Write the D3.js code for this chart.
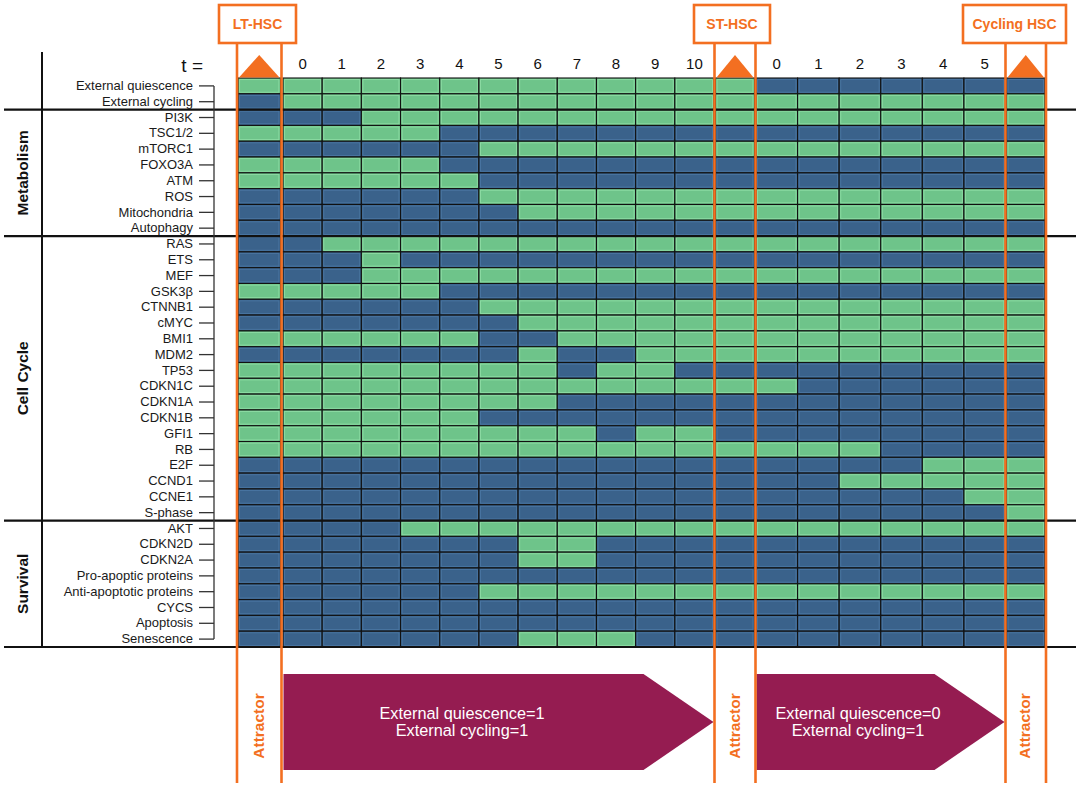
<!DOCTYPE html>
<html>
<head>
<meta charset="utf-8">
<script src="https://cdnjs.cloudflare.com/ajax/libs/d3/7.8.5/d3.min.js"></script>
<style>
  body { margin: 0; background: #fff; }
  svg { display: block; }
</style>
</head>
<body>
<div id="chart"></div>
<script>
const genes = ["External quiescence", "External cycling", "PI3K", "TSC1/2", "mTORC1", "FOXO3A", "ATM", "ROS",
  "Mitochondria", "Autophagy", "RAS", "ETS", "MEF", "GSK3β", "CTNNB1", "cMYC", "BMI1", "MDM2", "TP53", "CDKN1C",
  "CDKN1A", "CDKN1B", "GFI1", "RB", "E2F", "CCND1", "CCNE1", "S-phase", "AKT", "CDKN2D", "CDKN2A",
  "Pro-apoptic proteins", "Anti-apoptotic proteins", "CYCS", "Apoptosis", "Senescence"];

const groupNames = ["Metabolism", "Cell Cycle", "Survival"];
const groupFirst = ["PI3K", "RAS", "AKT"];

const attractors = ["LT-HSC", "ST-HSC", "Cycling HSC"];
const run1Steps = [0, 1, 2, 3, 4, 5, 6, 7, 8, 9, 10];
const run2Steps = [0, 1, 2, 3, 4, 5];
const runLabels = [
  ["External quiescence=1", "External cycling=1"],
  ["External quiescence=0", "External cycling=1"]
];

// per gene: LT attractor | run 1, t=0..10 | ST attractor | run 2, t=0..5 | cycling attractor  (1 = active)
const states = [
  "1 11111111111 1 000000 0",
  "0 11111111111 1 111111 1",
  "0 00111111111 1 111111 1",
  "1 11110000000 0 000000 0",
  "0 00000111111 1 111111 1",
  "1 11110000000 0 000000 0",
  "1 11111000000 0 000000 0",
  "0 00000111111 1 111111 1",
  "0 00000011111 1 111111 1",
  "0 00000000000 0 000000 0",
  "0 01111111111 1 111111 1",
  "0 00100000000 0 000000 0",
  "0 00111111111 1 111111 1",
  "1 11110000000 0 000000 0",
  "0 00000111111 1 111111 1",
  "0 00000011111 1 111111 1",
  "1 11111001111 1 111111 1",
  "0 00000010011 1 111111 1",
  "1 11111110110 0 000000 0",
  "1 11111111111 1 100000 0",
  "1 11111110000 0 000000 0",
  "1 11111000000 0 000000 0",
  "1 11111111011 0 000000 0",
  "1 11111111111 1 111000 0",
  "0 00000000000 0 000011 1",
  "0 00000000000 0 001111 1",
  "0 00000000000 0 000001 1",
  "0 00000000000 0 000000 1",
  "0 00011111111 1 111111 1",
  "0 00000011000 0 000000 0",
  "0 00000011000 0 000000 0",
  "0 00000000000 0 000000 0",
  "0 00000111111 1 111111 1",
  "0 00000000000 0 000000 0",
  "0 00000000000 0 000000 0",
  "0 00000011100 0 000000 0"
];

const W = 1084, H = 788;
const font = "'Liberation Sans', Arial, Helvetica, sans-serif";
const ORANGE = "#f36f21", GREEN = "#6ec48a", BLUE = "#3a628b", PURPLE = "#951c51";

const svg = d3.select("#chart").append("svg")
    .attr("width", W)
    .attr("height", H)
    .style("font-family", font);

const y = d3.scaleBand().domain(genes).range([78, 647]);
const xRun = [
  d3.scaleBand().domain(run1Steps).range([283, 714]),
  d3.scaleBand().domain(run2Steps).range([756, 1005.5])
];
// orange rails around the attractor columns
const rails = [[237, 281.5], [714.5, 755.5], [1005.5, 1046]];
const boxes = [{x: 219, w: 77}, {x: 694, w: 76}, {x: 963, w: 103}];
const arrowTextX = [462, 858];

// build cells
const cells = [];
genes.forEach((g, r) => {
  const [a0, s1, a1, s2, a2] = states[r].split(" ");
  [a0, a1, a2].forEach((v, i) => cells.push({g, x: rails[i][0] + 1, w: rails[i][1] - rails[i][0] - 2, on: v === "1"}));
  [s1, s2].forEach((s, k) => s.split("").forEach((v, t) =>
    cells.push({g, x: xRun[k](t), w: xRun[k].bandwidth(), on: v === "1"})));
});

const cell = svg.append("g")
  .selectAll("g")
  .data(cells)
  .join("g");

cell.append("rect")
    .attr("x", d => d.x)
    .attr("y", d => y(d.g))
    .attr("width", d => d.w)
    .attr("height", y.bandwidth())
    .attr("fill", d => d.on ? GREEN : BLUE)
    .attr("stroke", "#111")
    .attr("stroke-width", 1.1);

cell.append("rect")
    .attr("x", d => d.x + 1.6)
    .attr("y", d => y(d.g) + 1.6)
    .attr("width", d => d.w - 3.2)
    .attr("height", y.bandwidth() - 3.2)
    .attr("fill", "none")
    .attr("stroke", d => d.on ? "#8ddca4" : "#4a76a2")
    .attr("stroke-width", 0.9);

// section separators
const sepY = groupFirst.map(g => y(g)).concat([y.range()[1]]);
svg.append("g")
  .selectAll("line")
  .data(sepY)
  .join("line")
    .attr("x1", 4).attr("x2", 1076)
    .attr("y1", d => d).attr("y2", d => d)
    .attr("stroke", "#111")
    .attr("stroke-width", 2.2);

svg.append("line")
    .attr("x1", 42).attr("x2", 42)
    .attr("y1", 52).attr("y2", 648)
    .attr("stroke", "#111")
    .attr("stroke-width", 2);

// group labels
svg.append("g")
  .selectAll("text")
  .data(groupNames)
  .join("text")
    .attr("transform", (d, i) => `translate(22,${(sepY[i] + sepY[i + 1]) / 2}) rotate(-90)`)
    .attr("text-anchor", "middle")
    .attr("dominant-baseline", "central")
    .style("font-size", "15.5px")
    .style("font-weight", "700")
    .style("fill", "#111")
    .text(d => d);

// gene axis
const axis = svg.append("g")
    .attr("transform", "translate(214,0)")
    .call(d3.axisLeft(y).tickSize(15).tickSizeOuter(0).tickPadding(6));
const half = y.bandwidth() / 2;
axis.select(".domain").attr("d", `M0,${y(genes[0]) + half}V${y(genes[genes.length - 1]) + half}`);
axis.selectAll("line, path").attr("stroke", "#333").attr("stroke-width", 1.3);
axis.attr("font-family", font).attr("font-size", 13);
axis.selectAll("text").attr("fill", "#1a1a1a");

// header
svg.append("text")
    .attr("x", 203).attr("y", 72)
    .attr("text-anchor", "end")
    .style("font-size", "19px")
    .style("fill", "#111")
    .text("t =");

xRun.forEach((xs, k) => {
  svg.append("g")
    .selectAll("text")
    .data(xs.domain())
    .join("text")
      .attr("x", d => xs(d) + xs.bandwidth() / 2)
      .attr("y", 68.5)
      .attr("text-anchor", "middle")
      .style("font-size", "15px")
      .style("fill", "#111")
      .text(d => d);
});

// attractor triangles
svg.append("g")
  .selectAll("path")
  .data(rails)
  .join("path")
    .attr("d", d => `M${d[0] + 2},77.5L${(d[0] + d[1]) / 2},55L${d[1] - 2},77.5Z`)
    .attr("fill", ORANGE);

// arrows
runLabels.forEach((lines, k) => {
  const x0 = xRun[k].range()[0] + 0.5;
  const tip = rails[k + 1][0] - 1;
  const neck = tip - 70;
  svg.append("path")
      .attr("d", `M${x0},674H${neck}L${tip},722L${neck},770H${x0}Z`)
      .attr("fill", PURPLE);
  svg.append("g")
    .selectAll("text")
    .data(lines)
    .join("text")
      .attr("x", arrowTextX[k])
      .attr("y", (d, i) => 719 + i * 17)
      .attr("text-anchor", "middle")
      .style("font-size", "16.3px")
      .style("fill", "#fff")
      .text(d => d);
});

// rails, boxes and attractor labels
svg.append("g")
  .selectAll("line")
  .data(rails.flat())
  .join("line")
    .attr("x1", d => d).attr("x2", d => d)
    .attr("y1", 43).attr("y2", 783)
    .attr("stroke", ORANGE)
    .attr("stroke-width", 2.6);

const box = svg.append("g")
  .selectAll("g")
  .data(attractors)
  .join("g");

box.append("rect")
    .attr("x", (d, i) => boxes[i].x)
    .attr("y", 5)
    .attr("width", (d, i) => boxes[i].w)
    .attr("height", 38)
    .attr("fill", "#fff")
    .attr("stroke", ORANGE)
    .attr("stroke-width", 2.6);

box.append("text")
    .attr("x", (d, i) => boxes[i].x + boxes[i].w / 2)
    .attr("y", 28.5)
    .attr("text-anchor", "middle")
    .style("font-size", "14px")
    .style("font-weight", "700")
    .style("fill", ORANGE)
    .text(d => d);

svg.append("g")
  .selectAll("text")
  .data(rails)
  .join("text")
    .attr("transform", d => `translate(${(d[0] + d[1]) / 2 - 1},726) rotate(-90)`)
    .attr("text-anchor", "middle")
    .attr("dominant-baseline", "central")
    .style("font-size", "15.5px")
    .style("font-weight", "700")
    .style("fill", ORANGE)
    .text("Attractor");
</script>
</body>
</html>
